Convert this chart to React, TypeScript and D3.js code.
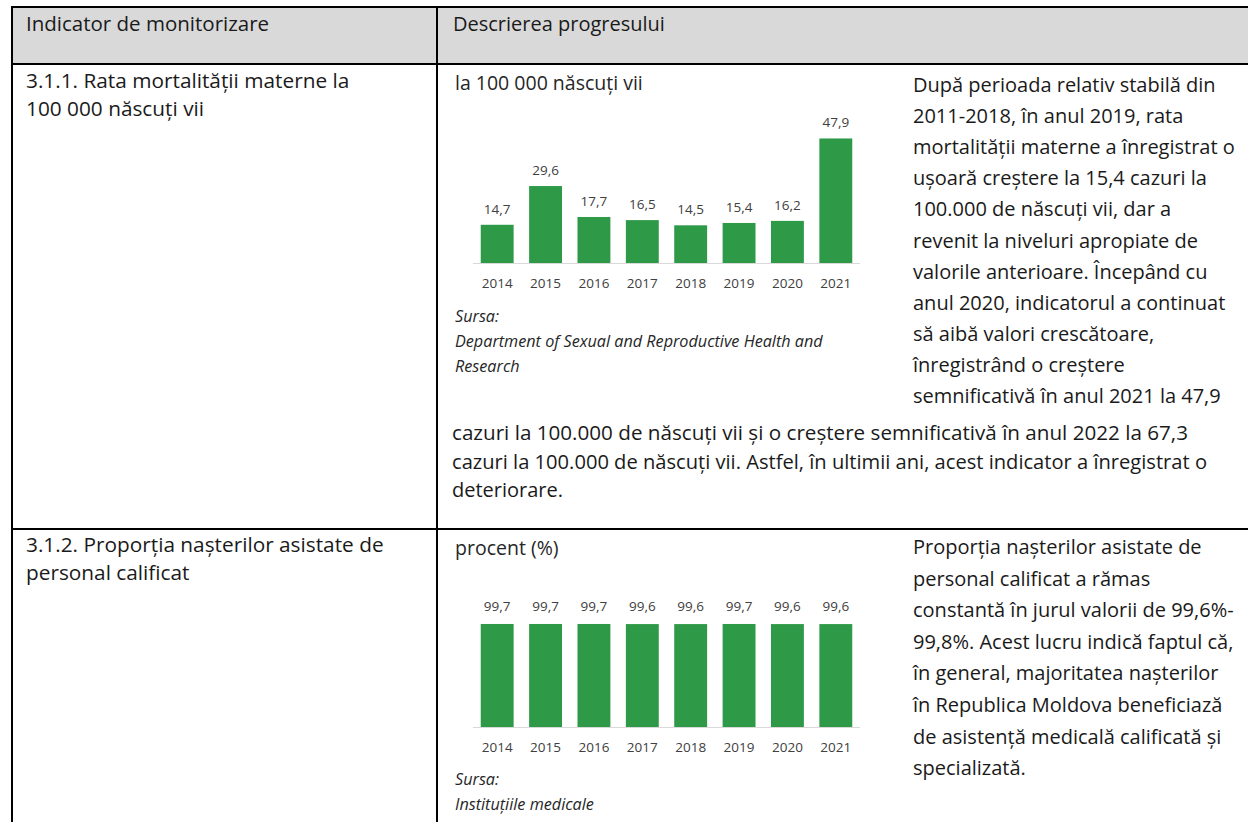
import React from 'react';
import * as d3 from 'd3';

const years = ['2014', '2015', '2016', '2017', '2018', '2019', '2020', '2021'];
const mortalityRate = [14.7, 29.6, 17.7, 16.5, 14.5, 15.4, 16.2, 47.9];
const assistedBirths = [99.7, 99.7, 99.7, 99.6, 99.6, 99.7, 99.6, 99.6];

const headerCols = ['Indicator de monitorizare', 'Descrierea progresului'];
const row1Left = ['3.1.1. Rata mortalității materne la', '100 000 născuți vii'];
const row1Right = [
  'După perioada relativ stabilă din',
  '2011-2018, în anul 2019, rata',
  'mortalității materne a înregistrat o',
  'ușoară creștere la 15,4 cazuri la',
  '100.000 de născuți vii, dar a',
  'revenit la niveluri apropiate de',
  'valorile anterioare. Începând cu',
  'anul 2020, indicatorul a continuat',
  'să aibă valori crescătoare,',
  'înregistrând o creștere',
  'semnificativă în anul 2021 la 47,9',
];
const row1Bottom = [
  'cazuri la 100.000 de născuți vii și o creștere semnificativă în anul 2022 la 67,3',
  'cazuri la 100.000 de născuți vii. Astfel, în ultimii ani, acest indicator a înregistrat o',
  'deteriorare.',
];
const row2Left = ['3.1.2. Proporția nașterilor asistate de', 'personal calificat'];
const row2Right = [
  'Proporția nașterilor asistate de',
  'personal calificat a rămas',
  'constantă în jurul valorii de 99,6%-',
  '99,8%. Acest lucru indică faptul că,',
  'în general, majoritatea nașterilor',
  'în Republica Moldova beneficiază',
  'de asistență medicală calificată și',
  'specializată.',
];
const chart1Unit = 'la 100 000 născuți vii';
const chart2Unit = 'procent (%)';
const chart1Source = ['Sursa:', 'Department of Sexual and Reproductive Health and', 'Research'];
const chart2Source = ['Sursa:', 'Instituțiile medicale'];

const FONT = '"Open Sans", Lato, sans-serif';
const GREEN = '#2e9a48';
const fmt = (v: number) => v.toFixed(1).replace('.', ',');

function Lines({ lines, x, y, step, size = 20, fill = '#1a1a1a', italic = false, lengths }: any) {
  return (
    <g>
      {lines.map((t: string, i: number) => (
        <text
          key={i}
          x={x}
          y={y + i * step}
          fontFamily={FONT}
          fontSize={size}
          fill={fill}
          fontStyle={italic ? 'italic' : 'normal'}
          {...(lengths && lengths[i] ? { textLength: lengths[i], lengthAdjust: 'spacingAndGlyphs' } : {})}
        >
          {t}
        </text>
      ))}
    </g>
  );
}

function BarChart({ values, baseline, yMax, yTop, labelGap }: any) {
  const x = d3.scaleBand<string>().domain(years).range([473, 860]).paddingInner(0.32).paddingOuter(0.16);
  const y = d3.scaleLinear().domain([0, yMax]).range([baseline, yTop]);
  return (
    <g>
      {values.map((v: number, i: number) => (
        <rect key={i} x={x(years[i])} y={y(v)} width={x.bandwidth()} height={baseline - y(v)} fill={GREEN} />
      ))}
      <line x1={473} x2={860} y1={baseline + 0.5} y2={baseline + 0.5} stroke="#d9d9d9" strokeWidth={1} />
      {values.map((v: number, i: number) => (
        <text key={'v' + i} x={(x(years[i]) as number) + x.bandwidth() / 2} y={y(v) - labelGap} textAnchor="middle"
          fontFamily={FONT} fontSize={13.5} fill="#404040">{fmt(v)}</text>
      ))}
      {years.map((yr, i) => (
        <text key={'y' + i} x={(x(yr) as number) + x.bandwidth() / 2} y={baseline + 25} textAnchor="middle"
          fontFamily={FONT} fontSize={13.5} fill="#404040">{yr}</text>
      ))}
    </g>
  );
}

export default function App() {
  return (
    <svg width={1248} height={822} style={{ position: 'absolute', left: 0, top: 0, background: '#fff' }}>
      <rect x={0} y={0} width={1248} height={822} fill="#fff" />
      <rect x={12} y={7} width={1240} height={57} fill="#d9d9d9" />
      <line x1={11} x2={1248} y1={7} y2={7} stroke="#000" strokeWidth={2} />
      <line x1={11} x2={1248} y1={64} y2={64} stroke="#000" strokeWidth={2} />
      <line x1={11} x2={1248} y1={529} y2={529} stroke="#000" strokeWidth={2} />
      <line x1={12} x2={12} y1={6} y2={822} stroke="#000" strokeWidth={2} />
      <line x1={437} x2={437} y1={6} y2={822} stroke="#000" strokeWidth={2} />

      <Lines lines={[headerCols[0]]} x={26} y={31} step={0} size={20.5} />
      <Lines lines={[headerCols[1]]} x={453} y={31} step={0} />

      <Lines lines={row1Left} x={26} y={88} step={28} size={20.8} />
      <Lines lines={row1Right} x={913} y={92} step={31.1} />
      <Lines lines={row1Bottom} x={452} y={440} step={28.5} lengths={[736, 755, 0]} />

      <Lines lines={row2Left} x={26} y={552} step={28} size={20.8} />
      <Lines lines={row2Right} x={913} y={554} step={31.6} />

      <Lines lines={[chart1Unit]} x={455} y={90} step={0} size={19.5} fill="#262626" />
      <BarChart values={mortalityRate} baseline={263} yMax={60} yTop={107} labelGap={11} />
      <Lines lines={chart1Source} x={455} y={322} step={25} size={16.2} fill="#262626" italic />

      <Lines lines={[chart2Unit]} x={455} y={555} step={0} size={19.5} fill="#262626" />
      <BarChart values={assistedBirths} baseline={727} yMax={120} yTop={603} labelGap={13} />
      <Lines lines={chart2Source} x={455} y={785} step={25} size={16.2} fill="#262626" italic />
    </svg>
  );
}
